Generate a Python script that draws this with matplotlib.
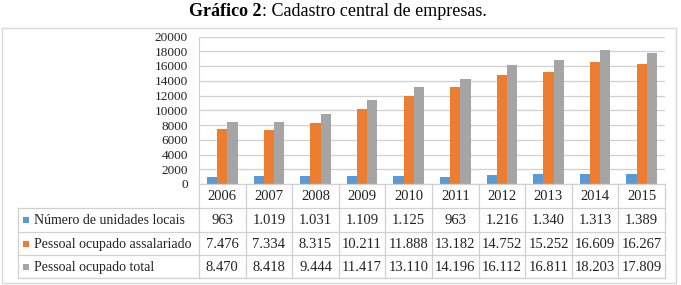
import matplotlib
matplotlib.use("Agg")
import matplotlib.pyplot as plt
from matplotlib.patches import Rectangle
from matplotlib.lines import Line2D
import numpy as np

years = ["2006", "2007", "2008", "2009", "2010", "2011", "2012", "2013", "2014", "2015"]
series_names = ["Número de unidades locais", "Pessoal ocupado assalariado", "Pessoal ocupado total"]
unidades = [963, 1019, 1031, 1109, 1125, 963, 1216, 1340, 1313, 1389]
assalariado = [7476, 7334, 8315, 10211, 11888, 13182, 14752, 15252, 16609, 16267]
total = [8470, 8418, 9444, 11417, 13110, 14196, 16112, 16811, 18203, 17809]
yticks = [0, 2000, 4000, 6000, 8000, 10000, 12000, 14000, 16000, 18000, 20000]
colors = ["#5B9BD5", "#ED7D31", "#A5A5A5"]

W, H = 681, 285
fig = plt.figure(figsize=(W / 100, H / 100), dpi=100)
plt.rcParams["font.family"] = ["Liberation Serif", "DejaVu Serif"]

def fx(px):
    return px / W

def fy(py):
    return 1 - py / H

GRID = "#D0D0D0"
TXT = "#222222"

# outer frame
fig.add_artist(Rectangle((fx(2), fy(283)), fx(674), (283 - 28) / H, transform=fig.transFigure,
                         fill=False, edgecolor="#D9D9D9", linewidth=1.0))

left, right, top, bottom = 199, 665, 36.5, 184
ax = fig.add_axes([fx(left), fy(bottom), (right - left) / W, (bottom - top) / H])
x = np.arange(len(years))
w = 0.22
for i, (vals, c) in enumerate(zip([unidades, assalariado, total], colors)):
    ax.bar(x + (i - 1) * w, vals, width=w, color=c, zorder=3)
ax.set_xlim(-0.5, len(years) - 0.5)
ax.set_ylim(0, 20000)
ax.set_yticks(yticks)
ax.set_yticklabels([str(v) for v in yticks], fontsize=9.5, color=TXT)
ax.tick_params(axis="y", length=0, pad=8)
ax.set_xticks([])
ax.grid(axis="y", color=GRID, linewidth=0.9, zorder=0)
for s in ["top", "right", "bottom"]:
    ax.spines[s].set_visible(False)
ax.spines["left"].set_color(GRID)
ax.set_facecolor("none")

# table
colw = (right - left) / len(years)
rows_y = [184, 208, 232, 255, 278]
lab_left = 18

def hline(x0, x1, y):
    fig.add_artist(Line2D([fx(x0), fx(x1)], [fy(y), fy(y)], color=GRID, linewidth=0.9,
                          transform=fig.transFigure))

def vline(x0, y0, y1):
    fig.add_artist(Line2D([fx(x0), fx(x0)], [fy(y0), fy(y1)], color=GRID, linewidth=0.9,
                          transform=fig.transFigure))

hline(left, right, rows_y[0])
for yy in rows_y[1:]:
    hline(lab_left, right, yy)
vline(lab_left, rows_y[1], rows_y[-1])
for k in range(len(years) + 1):
    vline(left + k * colw, rows_y[0], rows_y[-1])

def fmt(v):
    return f"{v:,}".replace(",", ".")

for k, yr in enumerate(years):
    fig.text(fx(left + (k + 0.5) * colw), fy((rows_y[0] + rows_y[1]) / 2 + 1), yr,
             ha="center", va="center", fontsize=10.5, color=TXT)

for r, (name, vals, c) in enumerate(zip(series_names, [unidades, assalariado, total], colors)):
    yc = (rows_y[r + 1] + rows_y[r + 2]) / 2
    fig.add_artist(Rectangle((fx(23), fy(yc + 3)), 6 / W, 6 / H, transform=fig.transFigure,
                             facecolor=c, edgecolor="none"))
    fig.text(fx(34), fy(yc + 1), name, ha="left", va="center", fontsize=10, color=TXT)
    for k, v in enumerate(vals):
        fig.text(fx(left + (k + 0.5) * colw), fy(yc + 1), fmt(v), ha="center", va="center",
                 fontsize=10.5, color=TXT)

# title
t1 = fig.text(0, fy(11), "Gráfico 2", fontsize=13, fontweight="bold", ha="left", va="center")
t2 = fig.text(0, fy(11), ": Cadastro central de empresas.", fontsize=13, ha="left", va="center")
fig.canvas.draw()
r = fig.canvas.get_renderer()
w1 = t1.get_window_extent(r).width
w2 = t2.get_window_extent(r).width
start = 338 - (w1 + w2) / 2
t1.set_x(fx(start))
t2.set_x(fx(start + w1))

fig.savefig("out.png", dpi=100)
